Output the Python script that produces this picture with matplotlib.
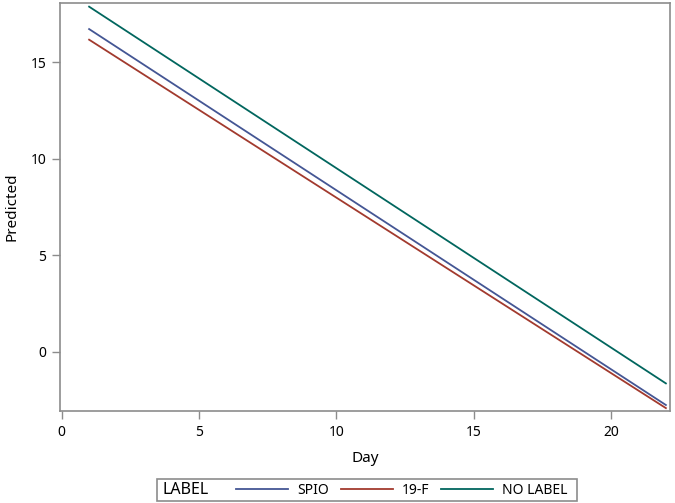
import matplotlib.pyplot as plt
from matplotlib.patches import Rectangle

# ===== Data =====
DAY = [1, 22]
SPIO = [16.71, -2.76]
F19 = [16.16, -2.92]
NO_LABEL = [17.87, -1.64]

SERIES = ['SPIO', '19-F', 'NO LABEL']
COLORS = ['#445694', '#A23A2E', '#01665E']
X_TICKS = [0, 5, 10, 15, 20]
Y_TICKS = [0, 5, 10, 15]

plt.rcParams['font.family'] = ['Noto Sans', 'DejaVu Sans']
GRAY = '#8c8c8c'

fig = plt.figure(figsize=(6.75, 5.03), dpi=100)
ax = fig.add_axes([60 / 675, 1 - 411 / 503, 610 / 675, 408 / 503])

for vals, name, col in zip([SPIO, F19, NO_LABEL], SERIES, COLORS):
    ax.plot(DAY, vals, color=col, lw=1.3, label=name)

ax.set_xlim(-0.06, 22.15)
ax.set_ylim(-3.07, 18.06)
ax.set_xticks(X_TICKS)
ax.set_yticks(Y_TICKS)
ax.tick_params(direction='out', length=6, width=1, color=GRAY, labelsize=10, pad=4)
for sp in ax.spines.values():
    sp.set_color(GRAY)
    sp.set_linewidth(1.2)
ax.set_xlabel('Day', fontsize=11, labelpad=8)
ax.set_ylabel('Predicted', fontsize=11, labelpad=8)

# legend: inline title + entries inside a gray box
handles, labels = ax.get_legend_handles_labels()
fig.legend(handles, labels, ncol=3, frameon=False, fontsize=10,
           handlelength=3.75, handletextpad=0.65, columnspacing=0.86,
           borderpad=0, borderaxespad=0,
           loc='center left', bbox_to_anchor=(236 / 675, 1 - 490 / 503))
fig.text(163 / 675, 1 - 490 / 503, 'LABEL', fontsize=11.5, va='center', ha='left')
fig.patches.append(Rectangle((157 / 675, 1 - 501 / 503), 420 / 675, 22 / 503,
                             transform=fig.transFigure, fill=False,
                             edgecolor=GRAY, lw=1.2))

fig.savefig('out.png', dpi=100)
